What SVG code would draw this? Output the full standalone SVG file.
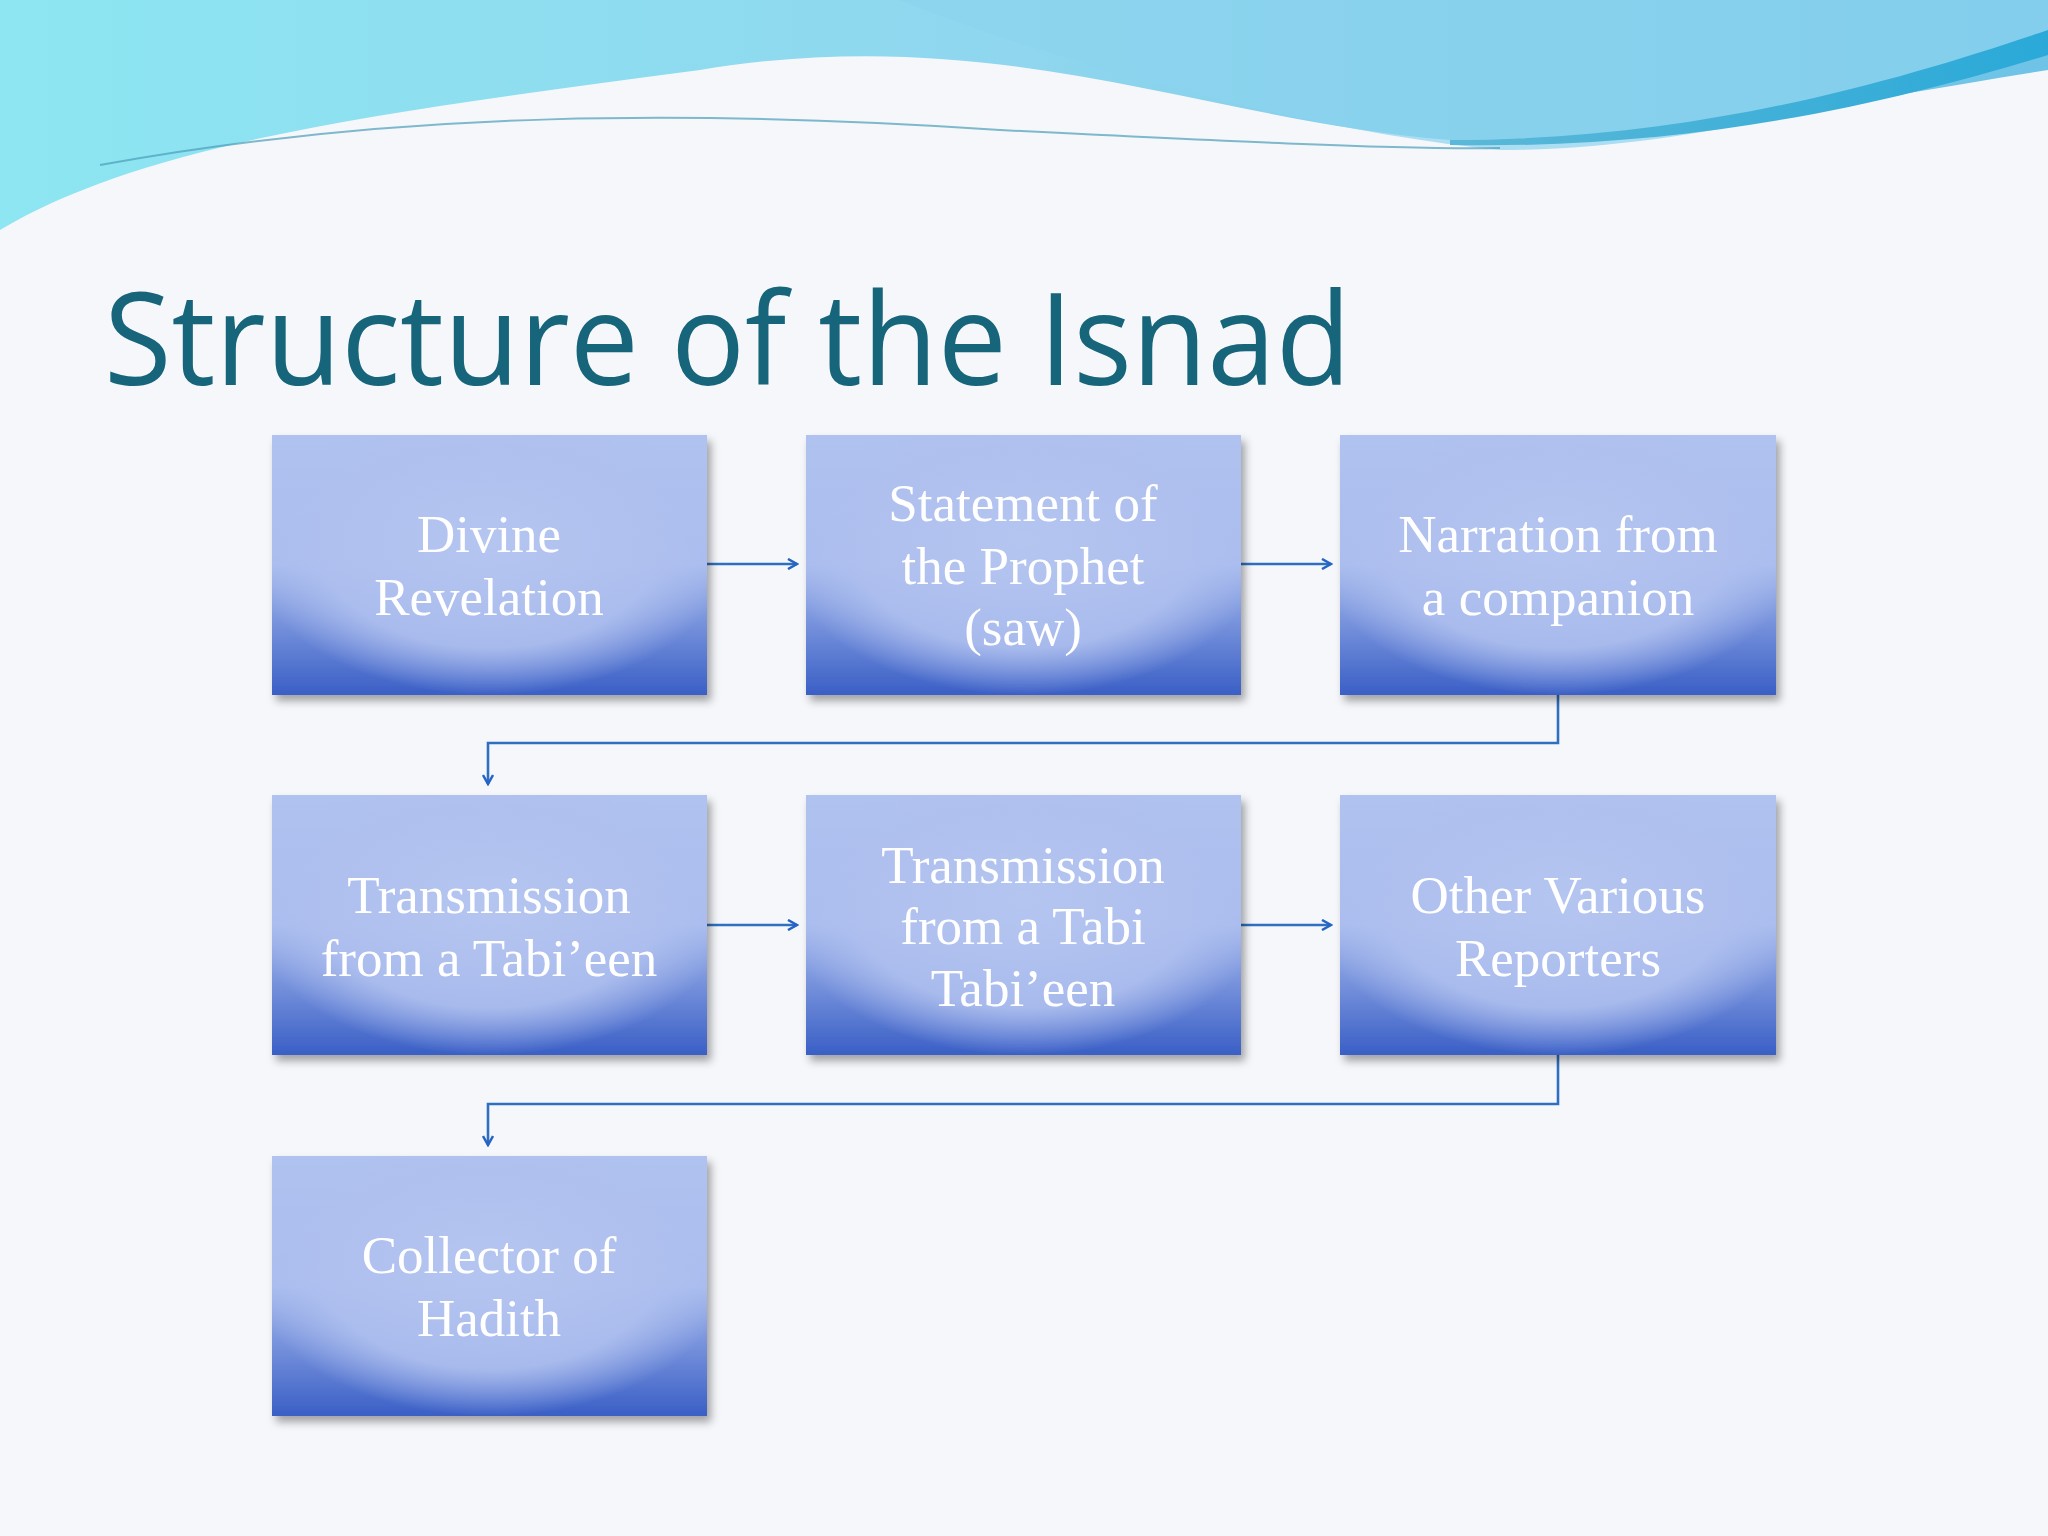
<svg xmlns="http://www.w3.org/2000/svg" width="2048" height="1536" viewBox="0 0 2048 1536">
<defs>
<linearGradient id="sky" x1="0" y1="0" x2="1" y2="0">
<stop offset="0" stop-color="#8de6f2"/><stop offset="0.5" stop-color="#8fd6ee"/><stop offset="1" stop-color="#6ec3e6"/>
</linearGradient>
<linearGradient id="sky2" x1="0" y1="0" x2="1" y2="0">
<stop offset="0" stop-color="#5bb8d8"/><stop offset="1" stop-color="#2aa9d8"/>
</linearGradient>
<linearGradient id="bx" x1="0" y1="0" x2="0" y2="1">
<stop offset="0" stop-color="#b0c2ef"/><stop offset="0.5" stop-color="#a9bcee"/><stop offset="1" stop-color="#3a5fc6"/>
</linearGradient>
<radialGradient id="glow" cx="0.5" cy="0.45" r="0.55" fx="0.5" fy="0.4">
<stop offset="0" stop-color="#b4c5f0" stop-opacity="1"/><stop offset="0.7" stop-color="#afc0ef" stop-opacity="0.9"/><stop offset="1" stop-color="#afc0ef" stop-opacity="0"/>
</radialGradient>
<filter id="sh" x="-10%" y="-10%" width="125%" height="125%">
<feDropShadow dx="4" dy="6" stdDeviation="4" flood-color="#000" flood-opacity="0.35"/>
</filter>
<marker id="ar" viewBox="0 0 12 12" refX="10" refY="6" markerWidth="12" markerHeight="12" markerUnits="userSpaceOnUse" orient="auto">
<path d="M1,1 L10,6 L1,11" fill="none" stroke="#2563c4" stroke-width="2.5"/>
</marker>
<style>
.box{filter:url(#sh)}
.t{font-family:"Liberation Serif",serif;font-size:53px;fill:#fff;text-anchor:middle}
.c{fill:none;stroke:#2f6fc0;stroke-width:2.6;marker-end:url(#ar)}
</style>
</defs>
<rect width="2048" height="1536" fill="#f6f7fb"/>
<path d="M0,0 H2048 V70 C1800,110 1600,150 1450,140 C1200,120 1000,20 700,70 C400,110 150,140 0,230 Z" fill="url(#sky)"/>
<path d="M900,0 C1050,60 1300,130 1500,150 C1700,150 1900,90 2048,40 V0 Z" fill="#8cd3ee" opacity="0.7"/>
<path d="M1450,140 C1700,140 1900,80 2048,30 V55 C1900,100 1700,150 1450,145 Z" fill="url(#sky2)"/>
<path d="M100,165 C400,110 700,110 1000,130 C1200,140 1400,150 1500,148" fill="none" stroke="#4a9cb8" stroke-width="2" opacity="0.7"/>
<text x="104" y="385" font-family="Open Sans, sans-serif" font-size="128" fill="#17657a" textLength="1247" lengthAdjust="spacingAndGlyphs">Structure of the Isnad</text>
<g id="connectors">
<line class="c" x1="707" y1="564" x2="797" y2="564"/>
<line class="c" x1="1241" y1="564" x2="1331" y2="564"/>
<polyline class="c" points="1558,695 1558,743 488,743 488,784"/>
<line class="c" x1="707" y1="925" x2="797" y2="925"/>
<line class="c" x1="1241" y1="925" x2="1331" y2="925"/>
<polyline class="c" points="1558,1055 1558,1104 488,1104 488,1145"/>
</g>
<g id="n1" class="box"><rect x="272" y="435" width="435" height="260" fill="url(#bx)"/><rect x="272" y="435" width="435" height="260" fill="url(#glow)"/>
<text class="t" x="489" y="552">Divine</text><text class="t" x="489" y="615">Revelation</text></g>
<g id="n2" class="box"><rect x="806" y="435" width="435" height="260" fill="url(#bx)"/><rect x="806" y="435" width="435" height="260" fill="url(#glow)"/>
<text class="t" x="1023" y="521">Statement of</text><text class="t" x="1023" y="584">the Prophet</text><text class="t" x="1023" y="645">(saw)</text></g>
<g id="n3" class="box"><rect x="1340" y="435" width="436" height="260" fill="url(#bx)"/><rect x="1340" y="435" width="436" height="260" fill="url(#glow)"/>
<text class="t" x="1558" y="552">Narration from</text><text class="t" x="1558" y="615">a companion</text></g>
<g id="n4" class="box"><rect x="272" y="795" width="435" height="260" fill="url(#bx)"/><rect x="272" y="795" width="435" height="260" fill="url(#glow)"/>
<text class="t" x="489" y="913">Transmission</text><text class="t" x="489" y="976">from a Tabi’een</text></g>
<g id="n5" class="box"><rect x="806" y="795" width="435" height="260" fill="url(#bx)"/><rect x="806" y="795" width="435" height="260" fill="url(#glow)"/>
<text class="t" x="1023" y="883">Transmission</text><text class="t" x="1023" y="944">from a Tabi</text><text class="t" x="1023" y="1006">Tabi’een</text></g>
<g id="n6" class="box"><rect x="1340" y="795" width="436" height="260" fill="url(#bx)"/><rect x="1340" y="795" width="436" height="260" fill="url(#glow)"/>
<text class="t" x="1558" y="913">Other Various</text><text class="t" x="1558" y="976">Reporters</text></g>
<g id="n7" class="box"><rect x="272" y="1156" width="435" height="260" fill="url(#bx)"/><rect x="272" y="1156" width="435" height="260" fill="url(#glow)"/>
<text class="t" x="489" y="1273">Collector of</text><text class="t" x="489" y="1336">Hadith</text></g>
</svg>
